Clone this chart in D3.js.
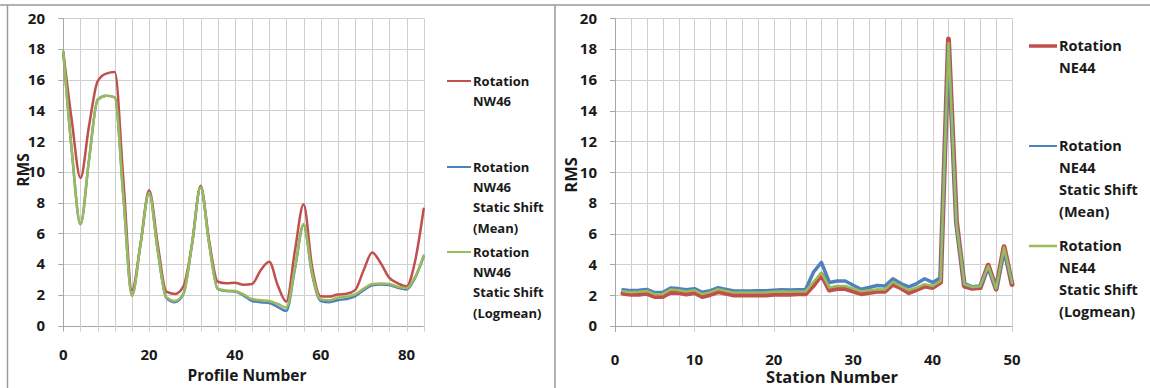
<!DOCTYPE html>
<html>
<head>
<meta charset="utf-8">
<script src="https://cdn.jsdelivr.net/npm/d3@7"></script>
<style>
  html, body { margin: 0; padding: 0; background: #fff; }
  svg { display: block; }
  text { font-family: "Open Sans", "DejaVu Sans", sans-serif; font-weight: 700; fill: #1a1a1a; }
</style>
</head>
<body>
<svg id="chart" width="1150" height="388"></svg>
<script>
// ---- Profile chart (left): RMS per profile number ----
const profileX = [0, 2, 4, 6, 8, 10, 12, 14, 16, 18, 20, 22, 24, 26, 28, 30, 32, 34, 36, 38, 40,
  42, 44, 46, 48, 50, 52, 54, 56, 58, 60, 62, 64, 66, 68, 70, 72, 74, 76, 78, 80, 82, 84];
const nw46Rotation = [17.8, 13.3, 9.6, 13.0, 15.9, 16.4, 16.5, 9.5, 2.3, 5.3, 8.8, 5.3, 2.2, 2.05, 2.55,
  5.3, 9.1, 5.5, 2.85, 2.75, 2.78, 2.65, 2.7, 3.6, 4.15, 2.6, 1.55, 4.9, 7.9, 3.8, 1.9, 1.88, 2.02,
  2.06, 2.3, 3.6, 4.75, 4.05, 3.1, 2.75, 2.55, 4.2, 7.6];
const nw46Mean = [17.8, 11.3, 6.6, 10.8, 14.7, 14.95, 14.85, 8.4, 1.95, 5.3, 8.65, 4.9, 1.8, 1.52, 2.05,
  5.3, 9.0, 5.3, 2.37, 2.25, 2.22, 1.95, 1.6, 1.52, 1.47, 1.2, 0.95, 3.7, 6.55, 3.3, 1.6, 1.52, 1.65,
  1.73, 1.9, 2.3, 2.62, 2.67, 2.63, 2.45, 2.35, 3.1, 4.5];
const nw46Logmean = [17.8, 11.3, 6.6, 10.8, 14.7, 14.95, 14.85, 8.4, 1.95, 5.3, 8.65, 4.9, 1.85, 1.6, 2.1,
  5.3, 9.0, 5.3, 2.4, 2.28, 2.25, 2.02, 1.72, 1.65, 1.6, 1.4, 1.17, 3.8, 6.6, 3.4, 1.7, 1.65, 1.82,
  1.87, 2.02, 2.4, 2.7, 2.74, 2.7, 2.52, 2.43, 3.17, 4.55];

// ---- Station chart (right): RMS per station number ----
const stationX = d3.range(1, 51);
const ne44Rotation = [2.12, 2.06, 2.07, 2.12, 1.92, 1.92, 2.2, 2.17, 2.08, 2.17, 1.92, 2.05, 2.24, 2.12,
  2.02, 2.02, 2.02, 2.02, 2.02, 2.07, 2.08, 2.07, 2.09, 2.1, 2.65, 3.35, 2.33, 2.43, 2.43, 2.26, 2.1,
  2.17, 2.26, 2.26, 2.72, 2.48, 2.17, 2.37, 2.59, 2.5, 2.85, 18.65, 6.8, 2.6, 2.45, 2.5, 3.95, 2.4, 5.15, 2.7];
const ne44Mean = [2.36, 2.3, 2.32, 2.38, 2.17, 2.17, 2.47, 2.43, 2.36, 2.43, 2.19, 2.3, 2.49, 2.38,
  2.28, 2.27, 2.28, 2.29, 2.29, 2.32, 2.35, 2.34, 2.35, 2.37, 3.5, 4.13, 2.83, 2.93, 2.93, 2.65, 2.39,
  2.5, 2.63, 2.6, 3.07, 2.76, 2.54, 2.76, 3.07, 2.83, 3.13, 18.2, 6.6, 2.75, 2.55, 2.6, 3.8, 2.45, 4.9, 2.85];
const ne44Logmean = [2.26, 2.2, 2.22, 2.28, 2.07, 2.07, 2.37, 2.33, 2.24, 2.33, 2.07, 2.2, 2.39, 2.28,
  2.17, 2.17, 2.17, 2.17, 2.17, 2.22, 2.24, 2.22, 2.24, 2.25, 2.87, 3.46, 2.5, 2.6, 2.6, 2.43, 2.26,
  2.33, 2.37, 2.37, 2.87, 2.59, 2.33, 2.5, 2.72, 2.6, 2.93, 18.4, 6.7, 2.7, 2.54, 2.59, 3.89, 2.43, 5.1, 2.8];

const yTicks = [0, 2, 4, 6, 8, 10, 12, 14, 16, 18, 20];
const profileTicks = [0, 20, 40, 60, 80];
const stationTicks = [0, 10, 20, 30, 40, 50];

const profileLegend = [
  ["Rotation", "NW46"],
  ["Rotation", "NW46", "Static Shift", "(Mean)"],
  ["Rotation", "NW46", "Static Shift", "(Logmean)"]
];
const stationLegend = [
  ["Rotation", "NE44"],
  ["Rotation", "NE44", "Static Shift", "(Mean)"],
  ["Rotation", "NE44", "Static Shift", "(Logmean)"]
];

const RED = "#C0504D", BLUE = "#4F81BD", GREEN = "#9BBB59";
const GRID = "#cfcfcf", AXIS = "#a6a6a6", FRAME = "#9a9a9a";

const svg = d3.select("#chart");
svg.append("rect").attr("width", 1150).attr("height", 388).attr("fill", "#fff");

// outer frame lines of the two panels
svg.append("line").attr("x1", 0).attr("x2", 1150).attr("y1", 5).attr("y2", 5)
  .attr("stroke", FRAME).attr("stroke-width", 1.5);
svg.append("line").attr("x1", 7.5).attr("x2", 7.5).attr("y1", 5).attr("y2", 388)
  .attr("stroke", FRAME).attr("stroke-width", 1.5);
svg.append("line").attr("x1", 555).attr("x2", 555).attr("y1", 5).attr("y2", 388)
  .attr("stroke", FRAME).attr("stroke-width", 1.5);

function panel(opts) {
  const g = svg.append("g");
  const x = d3.scaleLinear().domain(opts.xDomain).range(opts.xRange);
  const y = d3.scaleLinear().domain([0, 20]).range([opts.yBottom, opts.yTop]);

  // gridlines
  const vGrid = d3.range(opts.xDomain[0], opts.xDomain[1] + 0.001, opts.gridStep);
  g.append("g").selectAll("line").data(yTicks).join("line")
    .attr("x1", x.range()[0]).attr("x2", x.range()[1])
    .attr("y1", d => Math.round(y(d)) + 0.5).attr("y2", d => Math.round(y(d)) + 0.5)
    .attr("stroke", d => d === 0 ? AXIS : GRID).attr("stroke-width", 1);
  g.append("g").selectAll("line").data(vGrid).join("line")
    .attr("x1", d => Math.round(x(d)) + 0.5).attr("x2", d => Math.round(x(d)) + 0.5)
    .attr("y1", y(20)).attr("y2", d => y(0) + (opts.tickAll || opts.xTicks.includes(d) ? 6 : 0))
    .attr("stroke", (d, i) => (i === 0 ? AXIS : GRID)).attr("stroke-width", 1);
  // y tick marks
  g.append("g").selectAll("line").data(yTicks).join("line")
    .attr("x1", x.range()[0] - 5).attr("x2", x.range()[0])
    .attr("y1", d => Math.round(y(d)) + 0.5).attr("y2", d => Math.round(y(d)) + 0.5)
    .attr("stroke", AXIS);

  // tick labels
  g.append("g").selectAll("text").data(yTicks).join("text")
    .attr("x", opts.yLabelX).attr("y", d => y(d)).attr("dy", "0.36em")
    .attr("text-anchor", "end").style("font-size", "15px").text(d => d);
  g.append("g").selectAll("text").data(opts.xTicks).join("text")
    .attr("x", d => x(d)).attr("y", opts.xLabelY).attr("dy", "0.36em")
    .attr("text-anchor", "middle").style("font-size", "15px").text(d => d);

  // axis titles
  g.append("text").attr("x", opts.xTitle[0]).attr("y", opts.xTitle[1]).attr("dy", "0.36em")
    .attr("text-anchor", "middle").style("font-size", opts.titleSize + "px").text(opts.xTitleText);
  g.append("text").attr("transform", `translate(${opts.yTitle[0]},${opts.yTitle[1]}) rotate(-90)`)
    .attr("dy", "0.36em").attr("text-anchor", "middle")
    .style("font-size", opts.titleSize + "px").text("RMS");

  // series
  const line = d3.line().x(d => x(d[0])).y(d => y(d[1])).curve(opts.curve);
  opts.series.forEach(s => {
    g.append("path").datum(opts.xs.map((v, i) => [v, s.values[i]]))
      .attr("d", line).attr("fill", "none").attr("stroke", s.color)
      .attr("stroke-width", s.width).attr("stroke-linejoin", "round").attr("stroke-linecap", "round");
  });

  // legend
  opts.series.forEach((s, i) => {
    const ly = opts.legendY[i];
    g.append("line").attr("x1", opts.legendX[0]).attr("x2", opts.legendX[1])
      .attr("y1", ly).attr("y2", ly).attr("stroke", s.color).attr("stroke-width", s.legendWidth);
    const t = g.append("text").attr("x", opts.legendX[1] + 2).attr("y", ly)
      .style("font-size", opts.legendSize + "px");
    opts.legend[i].forEach((row, j) => {
      t.append("tspan").attr("x", opts.legendX[1] + 2).attr("y", ly + j * opts.legendGap)
        .attr("dy", "0.36em").text(row);
    });
  });
}

panel({
  xDomain: [0, 84], xRange: [63.3, 423.7], yTop: 18.3, yBottom: 325.5,
  gridStep: 4, tickAll: true, xTicks: profileTicks, xs: profileX,
  yLabelX: 45, xLabelY: 355, xTitle: [247, 375], xTitleText: "Profile Number", titleSize: 15.5,
  yTitle: [23, 170],
  curve: d3.curveMonotoneX,
  series: [
    { values: nw46Rotation, color: RED, width: 2.5, legendWidth: 2 },
    { values: nw46Mean, color: BLUE, width: 2.5, legendWidth: 2 },
    { values: nw46Logmean, color: GREEN, width: 2.5, legendWidth: 2 }
  ],
  legend: profileLegend, legendX: [447, 471], legendY: [81, 167, 252], legendGap: 20.3, legendSize: 13
});

panel({
  xDomain: [0, 50], xRange: [615, 1012], yTop: 18.3, yBottom: 326,
  gridStep: 2, tickAll: false, xTicks: stationTicks, xs: stationX,
  yLabelX: 597, xLabelY: 359.5, xTitle: [832, 377], xTitleText: "Station Number", titleSize: 16.5,
  yTitle: [571, 175],
  curve: d3.curveLinear,
  series: [
    { values: ne44Rotation, color: RED, width: 5, legendWidth: 3.5 },
    { values: ne44Mean, color: BLUE, width: 3.5, legendWidth: 2 },
    { values: ne44Logmean, color: GREEN, width: 2.5, legendWidth: 2.5 }
  ],
  legend: stationLegend, legendX: [1029, 1057], legendY: [46, 146, 246], legendGap: 22, legendSize: 14.5
});
</script>
</body>
</html>
